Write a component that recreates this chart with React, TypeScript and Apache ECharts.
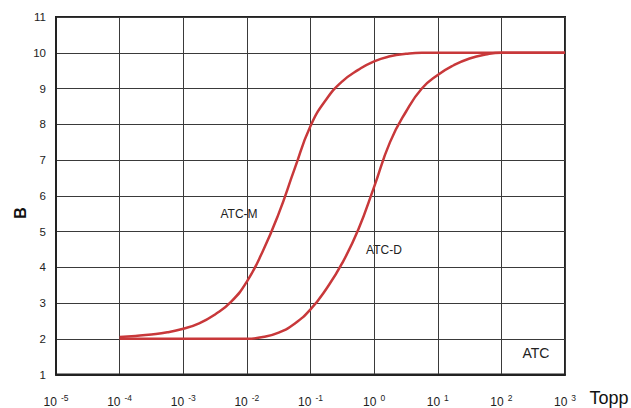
import React, { useEffect, useRef } from "react";
import * as echarts from "echarts";

const sampleExp = [-4, -3.75, -3.5, -3.25, -3, -2.75, -2.5, -2.25, -2, -1.75, -1.5, -1.25, -1, -0.75, -0.5, -0.25, 0, 0.25, 0.5, 0.75, 1, 1.25, 1.5, 1.75, 2, 2.5, 3];
const atcMVal = [2.05, 2.08, 2.12, 2.18, 2.28, 2.43, 2.68, 3.03, 3.6, 4.45, 5.5, 6.75, 7.95, 8.7, 9.2, 9.52, 9.76, 9.9, 9.97, 10.0, 10.0, 10.0, 10.0, 10.0, 10.0, 10.0, 10.0];
const atcDVal = [2.0, 2.0, 2.0, 2.0, 2.0, 2.0, 2.0, 2.0, 2.0, 2.05, 2.17, 2.42, 2.82, 3.4, 4.12, 5.05, 6.25, 7.5, 8.35, 9.0, 9.38, 9.65, 9.84, 9.95, 10.0, 10.0, 10.0];

const xMinExp = -5;
const xMaxExp = 3;
const yMin = 1;
const yMax = 11;

const seriesNames = ["ATC-M", "ATC-D"];

const FONT = "'Liberation Sans', Arial, sans-serif";
const RED = "#c8383a";

export default function App() {
  const ref = useRef<HTMLDivElement>(null);
  useEffect(() => {
    if (!ref.current) return;
    const chart = echarts.init(ref.current, undefined, { renderer: "svg" });
    const toData = (ex: number[], vals: number[]) => ex.map((e, i) => [Math.pow(10, e), vals[i]]);
    chart.setOption({
      animation: false,
      backgroundColor: "#ffffff",
      grid: {
        left: 56,
        top: 17,
        right: 66,
        bottom: 33,
        show: true,
        borderColor: "#222",
        borderWidth: 2,
      },
      xAxis: {
        type: "log",
        logBase: 10,
        min: Math.pow(10, xMinExp),
        max: Math.pow(10, xMaxExp),
        interval: 1,
        axisLine: { show: true, lineStyle: { color: "#222", width: 2 } },
        axisTick: { show: false },
        splitLine: { show: true, lineStyle: { color: "#3a3a3a", width: 1 } },
        axisLabel: {
          margin: 19,
          formatter: (v: number) => {
            const e = Math.round(Math.log10(v));
            return `{b|10}{s|${e}}`;
          },
          rich: {
            b: { fontSize: 12, color: "#222", fontFamily: FONT },
            s: { fontSize: 8.5, color: "#222", fontFamily: FONT, padding: [0, 0, 8, 4] },
          },
        },
      },
      yAxis: {
        type: "value",
        min: yMin,
        max: yMax,
        interval: 1,
        axisLine: { show: true, lineStyle: { color: "#222", width: 2 } },
        axisTick: { show: false },
        splitLine: { show: true, lineStyle: { color: "#3a3a3a", width: 1 } },
        axisLabel: { fontSize: 11.5, color: "#222", fontFamily: FONT, margin: 10 },
      },
      graphic: [
        {
          type: "text",
          x: 20,
          y: 213,
          rotation: Math.PI / 2,
          style: { text: "B", fontSize: 16, fontWeight: "bold", fontFamily: FONT, fill: "#111", align: "center", verticalAlign: "middle" },
        },
        {
          type: "text",
          x: 609,
          y: 398,
          style: { text: "Topp", fontSize: 18, fontFamily: FONT, fill: "#111", align: "center", verticalAlign: "middle" },
        },
        {
          type: "text",
          x: 536,
          y: 353,
          style: { text: "ATC", fontSize: 14, fontFamily: FONT, fill: "#222", align: "center", verticalAlign: "middle" },
        },
        {
          type: "text",
          x: 239,
          y: 214,
          style: { text: seriesNames[0], fontSize: 12, fontFamily: FONT, fill: "#222", align: "center", verticalAlign: "middle", backgroundColor: "#fff", padding: [1, 2] },
        },
        {
          type: "text",
          x: 384,
          y: 250,
          style: { text: seriesNames[1], fontSize: 12, fontFamily: FONT, fill: "#222", align: "center", verticalAlign: "middle", backgroundColor: "#fff", padding: [1, 2] },
        },
      ],
      series: [
        {
          name: seriesNames[0],
          type: "line",
          data: toData(sampleExp, atcMVal),
          smooth: 0.5,
          showSymbol: false,
          lineStyle: { color: RED, width: 2.5 },
          z: 3,
        },
        {
          name: seriesNames[1],
          type: "line",
          data: toData(sampleExp, atcDVal),
          smooth: 0.5,
          showSymbol: false,
          lineStyle: { color: RED, width: 2.5 },
          z: 3,
        },
      ],
    });
    return () => chart.dispose();
  }, []);
  return <div ref={ref} style={{ position: "fixed", left: 0, top: 0, width: 631, height: 408 }} />;
}
